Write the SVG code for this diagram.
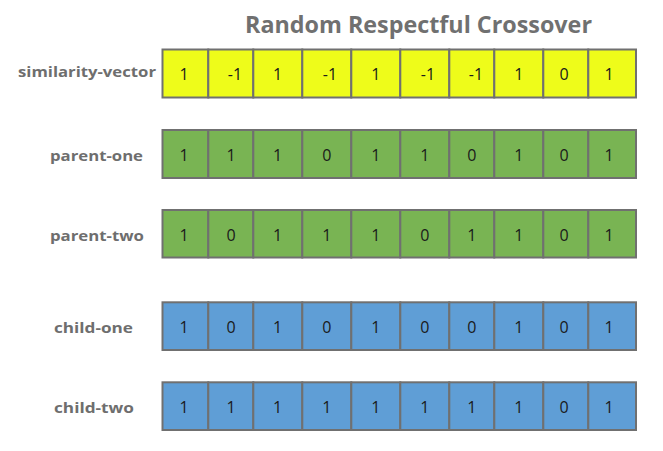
<svg xmlns="http://www.w3.org/2000/svg" width="663" height="451" viewBox="0 0 663 451">
<style>
.title{font-family:"Open Sans","Noto Sans",sans-serif;font-weight:bold;font-size:23px;fill:#707070}
.lbl{font-family:"Open Sans","Noto Sans",sans-serif;font-weight:bold;font-size:15px;fill:#6e6e6e}
.num{font-family:"Open Sans","Noto Sans",sans-serif;font-size:16px;fill:#1a1a1a;text-anchor:middle}
.cell{stroke:#707070;stroke-width:2}
.y{fill:#eefc1a}.g{fill:#79b453}.b{fill:#5f9ed6}
</style>
<rect width="663" height="451" fill="#ffffff"/>
<text class="title" x="245" y="33" textLength="347" lengthAdjust="spacingAndGlyphs">Random Respectful Crossover</text>

<g id="row-similarity-vector">
<text class="lbl" x="18" y="77" textLength="138" lengthAdjust="spacingAndGlyphs">similarity-vector</text>
<rect class="cell y" x="162.5" y="49.5" width="45.8" height="48"/>
<rect class="cell y" x="208.3" y="49.5" width="45" height="48"/>
<rect class="cell y" x="253.3" y="49.5" width="49" height="48"/>
<rect class="cell y" x="302.3" y="49.5" width="49" height="48"/>
<rect class="cell y" x="351.3" y="49.5" width="49" height="48"/>
<rect class="cell y" x="400.3" y="49.5" width="49" height="48"/>
<rect class="cell y" x="449.3" y="49.5" width="45" height="48"/>
<rect class="cell y" x="494.3" y="49.5" width="49" height="48"/>
<rect class="cell y" x="543.3" y="49.5" width="45" height="48"/>
<rect class="cell y" x="588.3" y="49.5" width="47.7" height="48"/>
<text class="num" x="184" y="80">1</text>
<text class="num" x="235" y="80">-1</text>
<text class="num" x="277.5" y="80">1</text>
<text class="num" x="330" y="80">-1</text>
<text class="num" x="375.8" y="80">1</text>
<text class="num" x="428" y="80">-1</text>
<text class="num" x="476" y="80">-1</text>
<text class="num" x="518.8" y="80">1</text>
<text class="num" x="564" y="80">0</text>
<text class="num" x="609" y="80">1</text>
</g>

<g id="row-parent-one">
<text class="lbl" x="50" y="161" textLength="93" lengthAdjust="spacingAndGlyphs">parent-one</text>
<rect class="cell g" x="162.5" y="130" width="45.8" height="48"/>
<rect class="cell g" x="208.3" y="130" width="45" height="48"/>
<rect class="cell g" x="253.3" y="130" width="49" height="48"/>
<rect class="cell g" x="302.3" y="130" width="49" height="48"/>
<rect class="cell g" x="351.3" y="130" width="49" height="48"/>
<rect class="cell g" x="400.3" y="130" width="49" height="48"/>
<rect class="cell g" x="449.3" y="130" width="45" height="48"/>
<rect class="cell g" x="494.3" y="130" width="49" height="48"/>
<rect class="cell g" x="543.3" y="130" width="45" height="48"/>
<rect class="cell g" x="588.3" y="130" width="47.7" height="48"/>
<text class="num" x="184" y="161">1</text>
<text class="num" x="231" y="161">1</text>
<text class="num" x="277.5" y="161">1</text>
<text class="num" x="326.8" y="161">0</text>
<text class="num" x="375.8" y="161">1</text>
<text class="num" x="424.8" y="161">1</text>
<text class="num" x="471.8" y="161">0</text>
<text class="num" x="518.8" y="161">1</text>
<text class="num" x="564" y="161">0</text>
<text class="num" x="609" y="161">1</text>
</g>

<g id="row-parent-two">
<text class="lbl" x="50" y="241" textLength="94" lengthAdjust="spacingAndGlyphs">parent-two</text>
<rect class="cell g" x="162.5" y="210" width="45.8" height="47.5"/>
<rect class="cell g" x="208.3" y="210" width="45" height="47.5"/>
<rect class="cell g" x="253.3" y="210" width="49" height="47.5"/>
<rect class="cell g" x="302.3" y="210" width="49" height="47.5"/>
<rect class="cell g" x="351.3" y="210" width="49" height="47.5"/>
<rect class="cell g" x="400.3" y="210" width="49" height="47.5"/>
<rect class="cell g" x="449.3" y="210" width="45" height="47.5"/>
<rect class="cell g" x="494.3" y="210" width="49" height="47.5"/>
<rect class="cell g" x="543.3" y="210" width="45" height="47.5"/>
<rect class="cell g" x="588.3" y="210" width="47.7" height="47.5"/>
<text class="num" x="184" y="241">1</text>
<text class="num" x="231" y="241">0</text>
<text class="num" x="277.5" y="241">1</text>
<text class="num" x="326.8" y="241">1</text>
<text class="num" x="375.8" y="241">1</text>
<text class="num" x="424.8" y="241">0</text>
<text class="num" x="471.8" y="241">1</text>
<text class="num" x="518.8" y="241">1</text>
<text class="num" x="564" y="241">0</text>
<text class="num" x="609" y="241">1</text>
</g>

<g id="row-child-one">
<text class="lbl" x="54" y="333" textLength="79" lengthAdjust="spacingAndGlyphs">child-one</text>
<rect class="cell b" x="162.5" y="302.3" width="45.8" height="47.7"/>
<rect class="cell b" x="208.3" y="302.3" width="45" height="47.7"/>
<rect class="cell b" x="253.3" y="302.3" width="49" height="47.7"/>
<rect class="cell b" x="302.3" y="302.3" width="49" height="47.7"/>
<rect class="cell b" x="351.3" y="302.3" width="49" height="47.7"/>
<rect class="cell b" x="400.3" y="302.3" width="49" height="47.7"/>
<rect class="cell b" x="449.3" y="302.3" width="45" height="47.7"/>
<rect class="cell b" x="494.3" y="302.3" width="49" height="47.7"/>
<rect class="cell b" x="543.3" y="302.3" width="45" height="47.7"/>
<rect class="cell b" x="588.3" y="302.3" width="47.7" height="47.7"/>
<text class="num" x="184" y="333">1</text>
<text class="num" x="231" y="333">0</text>
<text class="num" x="277.5" y="333">1</text>
<text class="num" x="326.8" y="333">0</text>
<text class="num" x="375.8" y="333">1</text>
<text class="num" x="424.8" y="333">0</text>
<text class="num" x="471.8" y="333">0</text>
<text class="num" x="518.8" y="333">1</text>
<text class="num" x="564" y="333">0</text>
<text class="num" x="609" y="333">1</text>
</g>

<g id="row-child-two">
<text class="lbl" x="54" y="413" textLength="80" lengthAdjust="spacingAndGlyphs">child-two</text>
<rect class="cell b" x="162.5" y="382.3" width="45.8" height="47.7"/>
<rect class="cell b" x="208.3" y="382.3" width="45" height="47.7"/>
<rect class="cell b" x="253.3" y="382.3" width="49" height="47.7"/>
<rect class="cell b" x="302.3" y="382.3" width="49" height="47.7"/>
<rect class="cell b" x="351.3" y="382.3" width="49" height="47.7"/>
<rect class="cell b" x="400.3" y="382.3" width="49" height="47.7"/>
<rect class="cell b" x="449.3" y="382.3" width="45" height="47.7"/>
<rect class="cell b" x="494.3" y="382.3" width="49" height="47.7"/>
<rect class="cell b" x="543.3" y="382.3" width="45" height="47.7"/>
<rect class="cell b" x="588.3" y="382.3" width="47.7" height="47.7"/>
<text class="num" x="184" y="413">1</text>
<text class="num" x="231" y="413">1</text>
<text class="num" x="277.5" y="413">1</text>
<text class="num" x="326.8" y="413">1</text>
<text class="num" x="375.8" y="413">1</text>
<text class="num" x="424.8" y="413">1</text>
<text class="num" x="471.8" y="413">1</text>
<text class="num" x="518.8" y="413">1</text>
<text class="num" x="564" y="413">0</text>
<text class="num" x="609" y="413">1</text>
</g>
<g id="connectors"/>
</svg>
